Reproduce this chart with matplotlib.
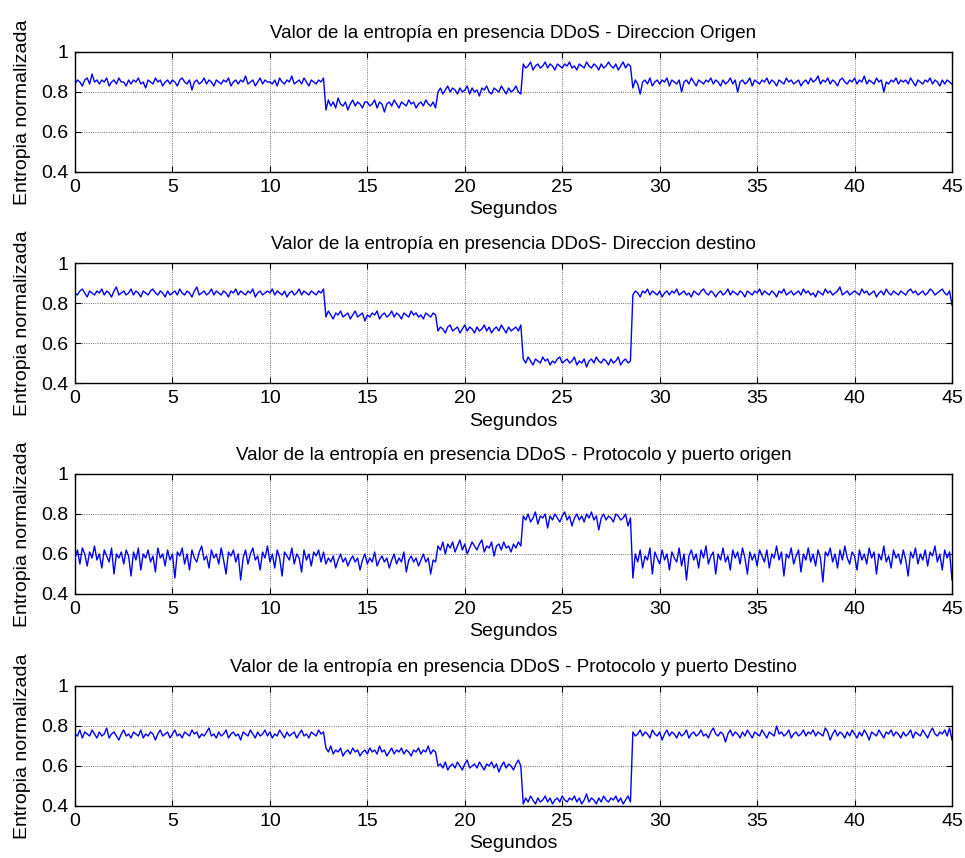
import numpy as np
import matplotlib.pyplot as plt

plt.rcParams['font.family'] = ['Liberation Sans', 'DejaVu Sans']

TITLES = ['Valor de la entropía en presencia DDoS - Direccion Origen',
          'Valor de la entropía en presencia DDoS- Direccion destino',
          'Valor de la entropía en presencia DDoS - Protocolo y puerto origen',
          'Valor de la entropía en presencia DDoS - Protocolo y puerto Destino']
XLABEL = 'Segundos'
YLABEL = 'Entropia normalizada'
XTICKS = [0, 5, 10, 15, 20, 25, 30, 35, 40, 45]
YTICKS = [0.4, 0.6, 0.8, 1.0]
YTICKLABELS = ['0.4', '0.6', '0.8', '1']
STEP = 0.125  # seconds between samples

# entropy values in hundredths, one sample every 0.125 s (20 per row = 2.5 s)
dir_origen = [
    84, 86, 85, 83, 86, 87, 84, 89, 85, 86, 84, 86, 85, 87, 83, 85, 86, 84, 87, 85,
    85, 83, 86, 84, 86, 85, 87, 84, 85, 82, 86, 85, 84, 87, 85, 86, 83, 85, 86, 84,
    86, 85, 83, 86, 87, 85, 84, 86, 81, 85, 86, 84, 85, 87, 84, 86, 85, 83, 86, 85,
    84, 86, 85, 87, 83, 85, 86, 84, 86, 85, 88, 84, 85, 86, 83, 85, 87, 84, 86, 85,
    85, 84, 86, 83, 87, 85, 84, 86, 85, 88, 84, 85, 86, 84, 87, 85, 83, 86, 85, 84,
    86, 85, 87, 71, 76, 73, 75, 72, 77, 74, 73, 75, 71, 74, 76, 73, 75, 74, 72, 75,
    75, 73, 74, 76, 72, 75, 74, 70, 74, 75, 73, 76, 74, 72, 75, 74, 73, 76, 74, 75,
    72, 74, 75, 73, 76, 74, 73, 75, 72, 80, 82, 79, 81, 83, 80, 82, 81, 79, 82, 80,
    81, 83, 79, 82, 80, 81, 78, 82, 81, 83, 80, 79, 82, 81, 80, 83, 81, 79, 82, 80,
    81, 83, 80, 79, 94, 92, 93, 95, 91, 93, 94, 92, 93, 95, 92, 94, 93, 91, 94, 93,
    92, 94, 93, 95, 92, 93, 91, 94, 93, 92, 95, 93, 92, 94, 93, 91, 94, 92, 93, 95,
    93, 92, 94, 91, 93, 95, 92, 94, 93, 82, 86, 84, 79, 85, 86, 84, 87, 83, 85, 86,
    84, 86, 85, 87, 83, 86, 85, 84, 86, 80, 85, 86, 84, 87, 85, 83, 86, 85, 84, 86,
    85, 87, 84, 86, 85, 83, 86, 84, 85, 87, 84, 86, 80, 85, 86, 84, 85, 87, 83, 86,
    85, 84, 86, 85, 87, 84, 86, 85, 83, 86, 85, 84, 87, 85, 86, 84, 85, 86, 83, 85,
    86, 84, 87, 85, 86, 88, 84, 86, 85, 87, 84, 86, 85, 83, 86, 87, 85, 84, 86, 85,
    87, 84, 86, 85, 88, 84, 86, 85, 84, 87, 85, 86, 80, 85, 84, 86, 85, 87, 84, 86,
    85, 86, 84, 87, 85, 83, 86, 85, 84, 86, 85, 87, 84, 86, 85, 83, 86, 84, 86, 85,
    84]

dir_destino = [
    85, 84, 86, 87, 85, 83, 86, 85, 84, 86, 85, 87, 84, 86, 85, 83, 86, 88, 84, 85,
    86, 84, 85, 87, 84, 86, 85, 83, 86, 85, 84, 86, 87, 85, 84, 86, 85, 83, 86, 84,
    85, 86, 84, 87, 85, 84, 86, 85, 83, 86, 88, 84, 85, 86, 84, 85, 87, 84, 86, 85,
    84, 86, 85, 83, 86, 85, 87, 84, 86, 85, 84, 86, 85, 87, 83, 85, 86, 84, 85, 86,
    85, 87, 84, 86, 85, 84, 86, 83, 85, 86, 84, 85, 87, 84, 86, 85, 84, 86, 85, 84,
    86, 85, 87, 73, 76, 74, 72, 75, 74, 76, 73, 74, 75, 72, 74, 76, 73, 74, 75, 71,
    74, 73, 75, 74, 76, 72, 74, 75, 73, 74, 76, 73, 75, 74, 72, 75, 74, 73, 76, 74,
    75, 73, 74, 72, 75, 74, 73, 75, 74, 66, 68, 67, 65, 68, 69, 66, 67, 68, 65, 67,
    69, 66, 68, 67, 65, 68, 66, 67, 69, 66, 68, 65, 67, 68, 66, 69, 67, 65, 68, 66,
    67, 68, 66, 69, 52, 50, 53, 51, 49, 52, 51, 50, 53, 51, 52, 49, 51, 50, 52, 53,
    50, 51, 52, 50, 51, 53, 49, 51, 50, 52, 48, 51, 52, 50, 53, 51, 50, 52, 51, 49,
    52, 50, 51, 53, 49, 51, 52, 50, 51, 84, 86, 85, 83, 86, 85, 87, 84, 86, 85, 84,
    86, 83, 85, 86, 84, 86, 85, 87, 84, 85, 86, 84, 85, 83, 86, 85, 84, 86, 87, 85,
    84, 86, 85, 83, 85, 86, 84, 85, 87, 84, 86, 85, 84, 86, 85, 83, 86, 85, 84, 86,
    85, 87, 84, 86, 85, 84, 86, 85, 83, 86, 85, 87, 84, 85, 86, 84, 85, 86, 84, 87,
    85, 86, 84, 85, 83, 86, 85, 84, 87, 85, 86, 84, 85, 86, 88, 84, 85, 86, 84, 85,
    86, 85, 84, 87, 85, 86, 84, 85, 86, 83, 85, 86, 84, 87, 85, 84, 86, 85, 84, 86,
    85, 84, 86, 87, 85, 86, 84, 85, 86, 84, 85, 87, 86, 84, 85, 86, 87, 85, 84, 86,
    79]

proto_origen = [
    58, 62, 55, 63, 60, 54, 61, 58, 64, 57, 60, 53, 62, 59, 56, 63, 50, 60, 58, 61,
    55, 62, 59, 49, 61, 57, 63, 52, 60, 58, 62, 56, 59, 51, 63, 58, 60, 54, 62, 57,
    60, 48, 61, 59, 63, 55, 60, 52, 62, 58, 56, 61, 64, 57, 59, 53, 62, 58, 60, 55,
    63, 57, 50, 61, 59, 62, 56, 60, 47, 58, 62, 55, 60, 63, 57, 59, 52, 61, 58, 64,
    56, 60, 53, 62, 58, 49, 61, 59, 57, 63, 55, 60, 58, 51, 62, 57, 60, 54, 61, 59,
    62, 56, 61, 55, 58, 56, 59, 53, 57, 60, 56, 58, 54, 57, 59, 56, 58, 52, 57, 60,
    55, 58, 56, 61, 54, 57, 59, 56, 58, 53, 57, 60, 55, 58, 56, 61, 51, 57, 59, 56,
    58, 54, 57, 60, 56, 58, 50, 57, 56, 64, 62, 66, 60, 65, 63, 66, 61, 64, 67, 62,
    65, 60, 63, 66, 64, 62, 65, 67, 61, 64, 63, 66, 59, 64, 65, 62, 66, 63, 64, 61,
    65, 63, 66, 64, 79, 77, 80, 76, 78, 81, 75, 79, 78, 80, 73, 79, 77, 80, 78, 76,
    79, 81, 77, 79, 74, 78, 80, 77, 79, 76, 80, 78, 81, 77, 79, 72, 78, 80, 77, 79,
    78, 76, 80, 79, 77, 78, 80, 74, 78, 48, 60, 56, 62, 53, 59, 57, 63, 50, 61, 58,
    55, 62, 57, 60, 52, 61, 58, 56, 63, 54, 60, 47, 59, 62, 57, 60, 53, 62, 58, 64,
    55, 59, 61, 50, 60, 57, 63, 56, 59, 52, 62, 58, 61, 55, 63, 58, 50, 61, 57, 60,
    54, 62, 59, 56, 62, 53, 60, 58, 64, 57, 61, 49, 60, 58, 63, 55, 59, 62, 51, 60,
    57, 63, 56, 60, 54, 62, 58, 46, 61, 59, 63, 56, 60, 53, 62, 57, 64, 58, 55, 61,
    59, 52, 62, 57, 60, 55, 63, 58, 61, 50, 60, 57, 64, 56, 59, 53, 62, 58, 60, 55,
    62, 57, 49, 61, 58, 63, 55, 60, 57, 62, 54, 61, 59, 64, 56, 60, 52, 62, 58, 61,
    47]

proto_destino = [
    76, 75, 78, 74, 77, 76, 75, 78, 76, 74, 77, 75, 76, 79, 74, 76, 77, 75, 73, 76,
    78, 75, 76, 74, 77, 76, 75, 78, 74, 76, 75, 77, 76, 73, 76, 78, 75, 76, 77, 74,
    76, 78, 75, 76, 74, 77, 76, 75, 78, 76, 77, 74, 76, 75, 77, 79, 75, 76, 74, 77,
    75, 76, 78, 74, 76, 77, 75, 76, 73, 77, 76, 75, 78, 76, 74, 77, 75, 76, 78, 75,
    77, 74, 76, 75, 78, 76, 74, 77, 75, 76, 77, 74, 76, 78, 75, 76, 74, 77, 76, 75,
    78, 76, 77, 69, 67, 70, 66, 68, 67, 69, 65, 67, 68, 66, 69, 67, 68, 65, 67, 68,
    66, 69, 67, 68, 66, 70, 67, 68, 65, 67, 69, 66, 68, 67, 69, 66, 68, 67, 65, 68,
    67, 69, 66, 68, 67, 70, 66, 68, 67, 60, 61, 59, 62, 58, 60, 61, 59, 62, 60, 58,
    61, 63, 59, 60, 61, 59, 62, 60, 58, 61, 60, 62, 59, 61, 57, 60, 62, 59, 61, 60,
    58, 61, 63, 60, 41, 44, 42, 45, 43, 41, 44, 42, 43, 45, 42, 44, 41, 43, 44, 42,
    45, 43, 42, 44, 43, 45, 42, 44, 41, 43, 46, 42, 44, 43, 41, 44, 42, 45, 43, 42,
    44, 43, 45, 42, 44, 41, 43, 45, 42, 77, 75, 76, 78, 75, 77, 76, 74, 78, 76, 75,
    77, 73, 76, 78, 75, 77, 76, 74, 77, 75, 76, 78, 74, 76, 77, 75, 76, 78, 75, 76,
    74, 77, 79, 76, 75, 77, 76, 72, 76, 78, 75, 77, 76, 74, 77, 75, 78, 76, 74, 77,
    76, 75, 78, 76, 74, 77, 76, 75, 80, 76, 77, 75, 76, 78, 74, 76, 77, 75, 76, 78,
    75, 77, 76, 78, 75, 77, 76, 75, 79, 77, 73, 76, 78, 75, 77, 76, 74, 77, 75, 78,
    76, 74, 77, 75, 78, 76, 73, 77, 76, 75, 78, 76, 74, 77, 76, 78, 75, 77, 76, 74,
    77, 75, 76, 78, 74, 77, 76, 75, 78, 76, 74, 77, 79, 76, 75, 77, 76, 78, 75, 79,
    73]

SERIES = [dir_origen, dir_destino, proto_origen, proto_destino]

fig = plt.figure(figsize=(9.65, 8.58), dpi=100)
tops = [52, 263, 474, 686]
for i, vals in enumerate(SERIES):
    top = 1 - tops[i] / 858
    ax = fig.add_axes([75 / 965, top - 120 / 858, 877 / 965, 120 / 858])
    y = np.array(vals) / 100.0
    t = np.arange(len(y)) * STEP
    ax.plot(t, y, color='#0000ff', lw=1.0)
    ax.set_xlim(0, 45)
    ax.set_ylim(0.4, 1.0)
    ax.set_xticks(XTICKS)
    ax.set_yticks(YTICKS)
    ax.set_yticklabels(YTICKLABELS)
    ax.tick_params(direction='in', top=True, right=True, labelsize=14, length=4, pad=5)
    ax.grid(True, color='#444444', linestyle=':', linewidth=0.6)
    for s in ax.spines.values():
        s.set_linewidth(1.0)
    ax.set_title(TITLES[i], fontsize=13.5, pad=10)
    ax.set_xlabel(XLABEL, fontsize=14, labelpad=4)
    ax.set_ylabel(YLABEL, fontsize=14, labelpad=7)

fig.savefig('out.png', dpi=100)
